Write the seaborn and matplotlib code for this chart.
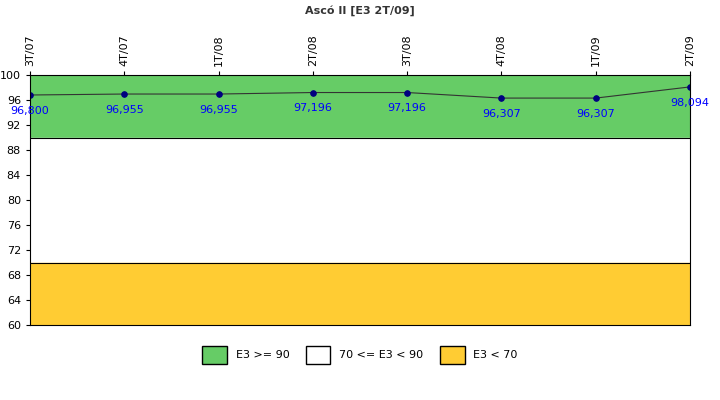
import matplotlib
matplotlib.use("Agg")
import matplotlib.pyplot as plt
import seaborn as sns
import pandas as pd
from matplotlib.patches import Patch

periods = ["3T/07", "4T/07", "1T/08", "2T/08", "3T/08", "4T/08", "1T/09", "2T/09"]
values = [96.800, 96.955, 96.955, 97.196, 97.196, 96.307, 96.307, 98.094]
yticks = [60, 64, 68, 72, 76, 80, 84, 88, 92, 96, 100]

df = pd.DataFrame({"x": range(len(periods)), "v": values})

fig = plt.figure(figsize=(7.2, 4.0), dpi=100)
ax = fig.add_axes([30/720, 1-325/400, 660/720, 250/400])
ax.axhspan(90, 100, color="#66cc66", zorder=0)
ax.axhspan(70, 90, color="white", zorder=0)
ax.axhspan(60, 70, color="#ffcc33", zorder=0)
ax.axhline(90, color="black", lw=0.8)
ax.axhline(70, color="black", lw=0.8)
sns.lineplot(data=df, x="x", y="v", ax=ax, color="#333333", lw=0.8,
             marker="o", markersize=4, markerfacecolor="#000080", markeredgecolor="#000080")
for i, v in enumerate(values):
    ax.text(i, v - 1.7, f"{v:.3f}".replace(".", ","), color="blue", fontsize=8,
            ha="center", va="top", family="DejaVu Sans")
ax.set_xlim(0, len(periods) - 1)
ax.set_ylim(60, 100)
ax.set_yticks(yticks)
ax.set_yticklabels([str(t) for t in yticks], fontsize=8)
ax.set_xticks(range(len(periods)))
ax.set_xticklabels(periods, rotation=90, fontsize=8)
ax.xaxis.tick_top()
ax.set_xlabel(""); ax.set_ylabel("")
for s in ax.spines.values():
    s.set_color("black"); s.set_linewidth(0.8)
ax.tick_params(length=3)
fig.text(0.5, 1-11/400, "Ascó II [E3 2T/09]", ha="center", va="center", fontsize=8, fontweight="bold", color="#333333")
handles = [Patch(facecolor="#66cc66", edgecolor="black", label="E3 >= 90"),
           Patch(facecolor="white", edgecolor="black", label="70 <= E3 < 90"),
           Patch(facecolor="#ffcc33", edgecolor="black", label="E3 < 70")]
fig.legend(handles=handles, loc="center", bbox_to_anchor=(0.5, 1-355/400), ncol=3,
           frameon=False, fontsize=8, handlelength=2.2, handleheight=2.2, columnspacing=1.5)
fig.savefig("out.png", dpi=100)
